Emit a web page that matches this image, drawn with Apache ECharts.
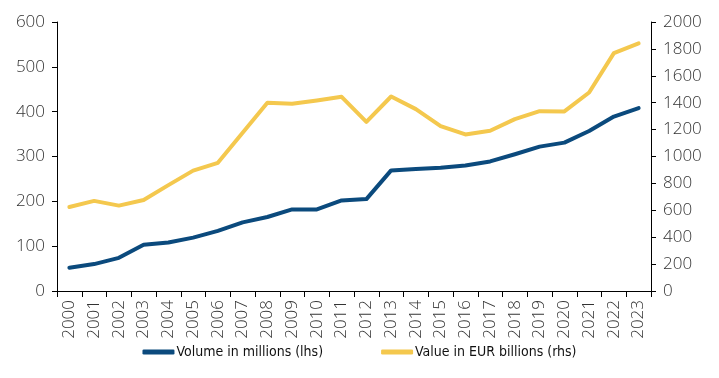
<!DOCTYPE html>
<html><head><meta charset="utf-8">
<script src="https://cdn.jsdelivr.net/npm/echarts@6/dist/echarts.min.js"></script>
<style>html,body{margin:0;padding:0;background:#fff}#c{width:719px;height:378px}</style>
</head><body><div id="c"></div>
<script>
var years = ['2000','2001','2002','2003','2004','2005','2006','2007','2008','2009','2010','2011','2012','2013','2014','2015','2016','2017','2018','2019','2020','2021','2022','2023'];
var volume = [52,60,74,103,108,119,134,153,165,182,182,202,205,269,272,275,280,289,305,322,331,357,389,408];
var value = [625,670,635,677,787,895,953,1176,1399,1392,1416,1444,1258,1446,1352,1226,1164,1191,1278,1337,1335,1476,1769,1841];
var leftTicks = [0,100,200,300,400,500,600];
var rightTicks = [0,200,400,600,800,1000,1200,1400,1600,1800,2000];

var tickFont = {fontFamily:'Open Sans', fontWeight:300, fontSize:17, color:'#333'};
var chart = echarts.init(document.getElementById('c'));
chart.setOption({
  animation:false,
  grid:{left:57,right:68,top:22,bottom:87,containLabel:false},
  legend:{
    bottom:14,left:'center',itemGap:58,itemWidth:32,itemHeight:5,icon:'roundRect',
    textStyle:{fontFamily:'"DejaVu Sans Condensed", "Liberation Sans Narrow", sans-serif',fontSize:14,color:'#111',padding:[0,0,0,-3]},
    data:['Volume in millions (lhs)','Value in EUR billions (rhs)']
  },
  xAxis:{
    type:'category',data:years,boundaryGap:true,
    axisLine:{lineStyle:{color:'#000',width:1}},
    axisTick:{show:true,length:6,alignWithLabel:false,lineStyle:{color:'#000'}},
    axisLabel:Object.assign({rotate:90,interval:0,margin:9},tickFont)
  },
  yAxis:[{
    type:'value',min:0,max:600,interval:100,
    axisLine:{show:true,lineStyle:{color:'#000'}},
    axisTick:{show:true,length:5,lineStyle:{color:'#000'}},
    splitLine:{show:false},
    axisLabel:Object.assign({margin:12,formatter:function(v){return leftTicks.indexOf(v)>=0?String(v):'';}},tickFont)
  },{
    type:'value',min:0,max:2000,interval:200,position:'right',
    axisLine:{show:true,lineStyle:{color:'#000'}},
    axisTick:{show:true,length:5,lineStyle:{color:'#000'}},
    splitLine:{show:false},
    axisLabel:Object.assign({margin:12,formatter:function(v){return rightTicks.indexOf(v)>=0?String(v):'';}},tickFont)
  }],
  series:[{
    name:'Volume in millions (lhs)',type:'line',yAxisIndex:0,data:volume,
    symbol:'none',lineStyle:{width:4,color:'#0B4A7D',cap:'round',join:'round'},itemStyle:{color:'#0B4A7D'},z:3
  },{
    name:'Value in EUR billions (rhs)',type:'line',yAxisIndex:1,data:value,
    symbol:'none',lineStyle:{width:4,color:'#F4C84E',cap:'round',join:'round'},itemStyle:{color:'#F4C84E'},z:2
  }]
});
</script></body></html>
